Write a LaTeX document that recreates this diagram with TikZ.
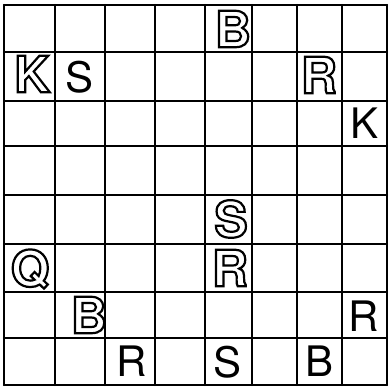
\documentclass[tikz,border=0pt]{standalone}
\usepackage{fontspec}
\setsansfont{TeX Gyre Heros}
\tikzset{
    piece/.style = {font=\sffamily\fontsize{42}{42}\selectfont, inner sep=0pt},
    hollowpiece/.style = {font=\sffamily\bfseries\fontsize{50}{50}\selectfont, inner sep=0pt},
    gridline/.style = {line width=2.2pt, line cap=round}
}
\newcommand{\hollow}[1]{\special{pdf:literal direct 1 Tr 2.2 w 0 0 0 RG}#1\special{pdf:literal direct 0 Tr}}
\begin{document}
\begin{tikzpicture}[x=1pt, y=-1pt]
    \useasboundingbox (0,0) rectangle (390,387);
    \fill[white] (0,0) rectangle (390,387);
    % grid
    \foreach \gx in {4,55,105,155,205,252,297,342,387}
        \draw[gridline] (\gx,5) -- (\gx,385);
    \foreach \gy in {5,52,101,146,195,244,292,338,385}
        \draw[gridline] (4,\gy) -- (387,\gy);
    % outlined letters
    \node[hollowpiece] (e8) at (233,29) {\hollow{B}};
    \node[hollowpiece] (a7) at (32,74) {\hollow{K}};
    \node[hollowpiece] (g7) at (319,75) {\hollow{R}};
    \node[hollowpiece] (e4) at (231,219) {\hollow{S}};
    \node[hollowpiece] (a3) at (30,269) {\hollow{Q}};
    \node[hollowpiece] (e3) at (230,268) {\hollow{R}};
    \node[hollowpiece] (b2) at (89,315) {\hollow{B}};
    % plain letters
    \node[piece] (b7) at (80,77) {S};
    \node[piece] (h6) at (364,123) {K};
    \node[piece] (h2) at (364,316) {R};
    \node[piece] (c1) at (132,361) {R};
    \node[piece] (e1) at (228,362) {S};
    \node[piece] (g1) at (320,361) {B};
\end{tikzpicture}
\end{document}
